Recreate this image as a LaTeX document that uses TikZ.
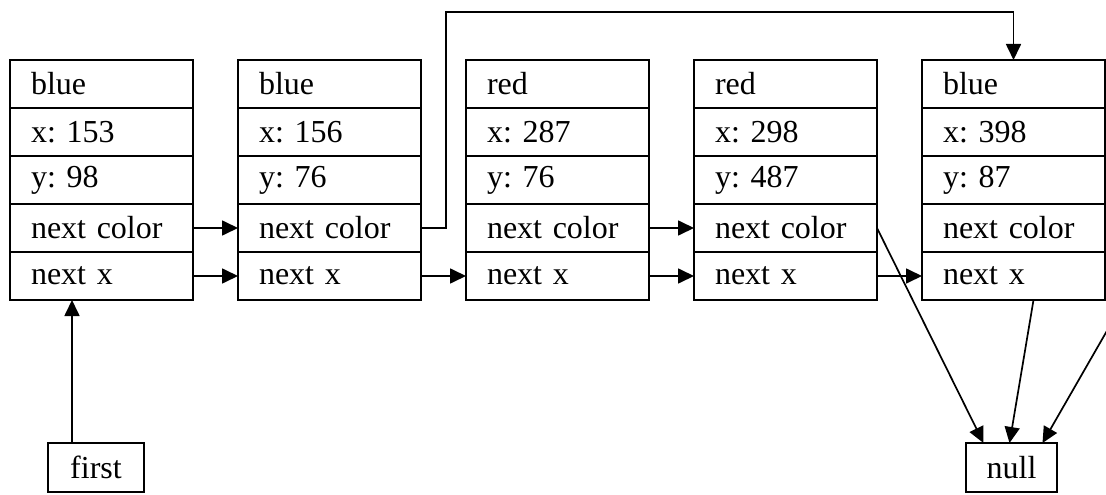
\documentclass[tikz,border=0pt]{standalone}
\usepackage{fontspec}
\setmainfont{Liberation Serif}
\usetikzlibrary{positioning,arrows.meta}

\tikzset{
 row/.style = {shape=rectangle, draw, line width=2pt, inner xsep=21pt, inner ysep=0pt,
  outer sep=0pt, text width=141pt, minimum height=48pt, align=left},
 tag/.style = {shape=rectangle, draw, line width=2pt, inner sep=0pt, outer sep=0pt,
  minimum height=49pt},
 arr/.style = {line width=1.7pt, -{Triangle[length=16pt,width=15pt]}}
}

\begin{document}
\frenchspacing
\begin{tikzpicture} [x=1pt, y=-1pt, font=\fontsize{32}{38}\selectfont]
 \useasboundingbox (0,0) rectangle (1106,495);
 % first record
 \node[row] (n1col) at (101.5,84) {blue};
 \node[row, below=0pt of n1col] (n1x) {x: 153};
 \node[row, below=0pt of n1x] (n1y) {y: 98};
 \node[row, below=0pt of n1y] (n1nc) {next color};
 \node[row, below=0pt of n1nc] (n1nx) {next x};
 % second record
 \node[row, right=45pt of n1col] (n2col) {blue};
 \node[row, below=0pt of n2col] (n2x) {x: 156};
 \node[row, below=0pt of n2x] (n2y) {y: 76};
 \node[row, below=0pt of n2y] (n2nc) {next color};
 \node[row, below=0pt of n2nc] (n2nx) {next x};
 % third record
 \node[row, right=45pt of n2col] (n3col) {red};
 \node[row, below=0pt of n3col] (n3x) {x: 287};
 \node[row, below=0pt of n3x] (n3y) {y: 76};
 \node[row, below=0pt of n3y] (n3nc) {next color};
 \node[row, below=0pt of n3nc] (n3nx) {next x};
 % fourth record
 \node[row, right=45pt of n3col] (n4col) {red};
 \node[row, below=0pt of n4col] (n4x) {x: 298};
 \node[row, below=0pt of n4x] (n4y) {y: 487};
 \node[row, below=0pt of n4y] (n4nc) {next color};
 \node[row, below=0pt of n4nc] (n4nx) {next x};
 % fifth record
 \node[row, right=45pt of n4col] (n5col) {blue};
 \node[row, below=0pt of n5col] (n5x) {x: 398};
 \node[row, below=0pt of n5x] (n5y) {y: 87};
 \node[row, below=0pt of n5y] (n5nc) {next color};
 \node[row, below=0pt of n5nc] (n5nx) {next x};

 \node[tag, minimum width=96pt] (first) at (96,467.5) {first};
 \node[tag, minimum width=91pt] (null) at (1011.5,467.5) {null};

 \coordinate (bend) at (446,12);
 \coordinate (off) at (1166,228);

 % next color links
 \draw[arr] (n1nc) -- (n2nc);
 \draw[arr] (n2nc.east) -| (bend) -| (n5col.north);
 \draw[arr] (n3nc) -- (n4nc);
 \draw[arr] (n4nc.east) -- ([xshift=-28pt]null.north);
 \draw[arr] (n5nc.east) -- (off) -- ([xshift=31pt]null.north);
 % next x links
 \draw[arr] (n1nx) -- (n2nx);
 \draw[arr] (n2nx) -- (n3nx);
 \draw[arr] (n3nx) -- (n4nx);
 \draw[arr] (n4nx) -- (n5nx);
 \draw[arr] ([xshift=20pt]n5nx.south) -- ([xshift=-2pt]null.north);
 \draw[arr] ([xshift=-24pt]first.north) -- ([xshift=-24pt]first.north |- n1nx.south);
\end{tikzpicture}
\end{document}
